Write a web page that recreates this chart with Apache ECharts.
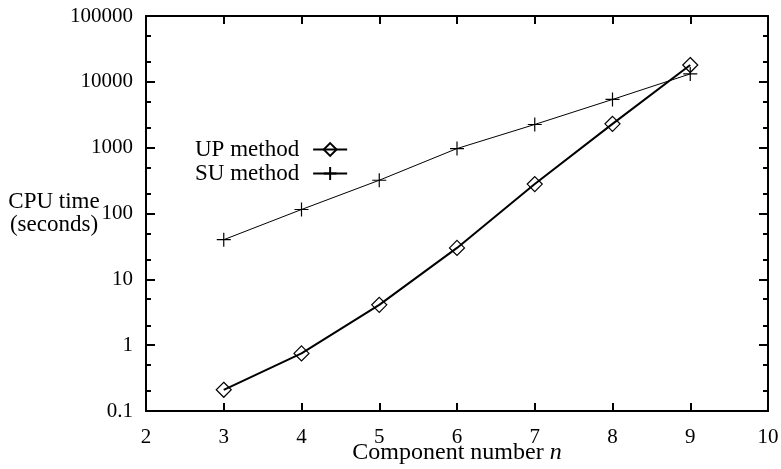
<!DOCTYPE html>
<html>
<head>
<meta charset="utf-8">
<script src="https://cdn.jsdelivr.net/npm/echarts@6/dist/echarts.min.js"></script>
<style>html,body{margin:0;padding:0;background:#fff}#c{width:781px;height:469px}</style>
</head>
<body>
<div id="c"></div>
<script>
const componentNumbers = [3, 4, 5, 6, 7, 8, 9];
const upMethodTimes = [0.21, 0.75, 4.1, 30, 280, 2300, 18000];
const suMethodTimes = [40, 115, 320, 970, 2250, 5400, 13200];
const yMajorTicks = [0.1, 1, 10, 100, 1000, 10000, 100000];
const yMinorTicks = [0.2, 0.5, 2, 5, 20, 50, 200, 500, 2000, 5000, 20000, 50000];
const xMin = 2, xMax = 10, xStep = 1;

const FONT = 'Liberation Serif';
const FS = 21;
const TFS = 23;
const black = '#000';

function pairs(xs, ys) { return xs.map((x, i) => [x, ys[i]]); }

function yAx(pos, ticks, len, showLine, showLabel, extra) {
  return Object.assign({
    type: 'log', logBase: 10, min: 0.1, max: 100000, position: pos,
    axisLine: { show: showLine, lineStyle: { color: black, width: 2 } },
    axisTick: { show: true, inside: true, length: len, customValues: ticks, lineStyle: { color: black, width: 2 } },
    axisLabel: showLabel ? {
      show: true, customValues: yMajorTicks, margin: 13, color: black,
      fontFamily: FONT, fontSize: FS,
      formatter: v => String(+(+v).toPrecision(6))
    } : { show: false },
    splitLine: { show: false },
    minorTick: { show: false }
  }, extra || {});
}

function xAx(pos, showLabel, extra) {
  return Object.assign({
    type: 'value', min: xMin, max: xMax, interval: xStep, position: pos,
    axisLine: { show: true, lineStyle: { color: black, width: 2 } },
    axisTick: { show: true, inside: true, length: 8, lineStyle: { color: black, width: 2 } },
    axisLabel: showLabel ? { show: true, margin: 16, color: black, fontFamily: FONT, fontSize: FS } : { show: false },
    splitLine: { show: false }
  }, extra || {});
}

const chart = echarts.init(document.getElementById('c'), null, { renderer: 'canvas' });
chart.setOption({
  backgroundColor: '#fff',
  animation: false,
  grid: { left: 146, right: 13, top: 16, bottom: 58, containLabel: false, outerBoundsMode: 'none' },
  legend: {
    orient: 'vertical', left: 195, top: 138, align: 'right',
    itemWidth: 34, itemHeight: 16, itemGap: 1, padding: 0,
    textStyle: { color: black, fontFamily: FONT, fontSize: 23, padding: [0, 9, 0, 0] },
    data: ['UP method', 'SU method']
  },
  xAxis: [
    xAx('bottom', true, {
      name: 'Component number {it|n}', nameLocation: 'middle', nameGap: 42, nameMoveOverlap: false,
      nameTextStyle: { color: black, fontFamily: FONT, fontSize: 24, verticalAlign: 'middle',
        rich: { it: { fontStyle: 'italic', fontFamily: FONT, fontSize: 24, color: black } } }
    }),
    xAx('top', false)
  ],
  yAxis: [
    yAx('left', yMajorTicks, 9, true, true, {
      name: 'CPU time\n(seconds)', nameLocation: 'middle', nameRotate: 0, nameGap: 92, nameMoveOverlap: false,
      nameTextStyle: { color: black, fontFamily: FONT, fontSize: TFS, align: 'center', verticalAlign: 'middle', lineHeight: 23 }
    }),
    yAx('left', yMinorTicks, 5, false, false),
    yAx('right', yMajorTicks, 9, true, false),
    yAx('right', yMinorTicks, 5, false, false)
  ],
  series: [
    {
      name: 'UP method', type: 'line', xAxisIndex: 0, yAxisIndex: 0,
      data: pairs(componentNumbers, upMethodTimes),
      symbol: 'diamond', symbolSize: 15, showAllSymbol: true,
      lineStyle: { color: black, width: 2 },
      itemStyle: { color: 'rgba(255,255,255,0)', borderColor: black, borderWidth: 1.2 },
      z: 3
    },
    {
      name: 'SU method', type: 'line', xAxisIndex: 0, yAxisIndex: 0,
      data: pairs(componentNumbers, suMethodTimes),
      symbol: 'path://M5,0 L5,10 M0,5 L10,5', symbolSize: 14, showAllSymbol: true,
      lineStyle: { color: black, width: 1 },
      itemStyle: { color: black, borderColor: black, borderWidth: 1.2 },
      z: 2
    }
  ]
});
</script>
</body>
</html>
